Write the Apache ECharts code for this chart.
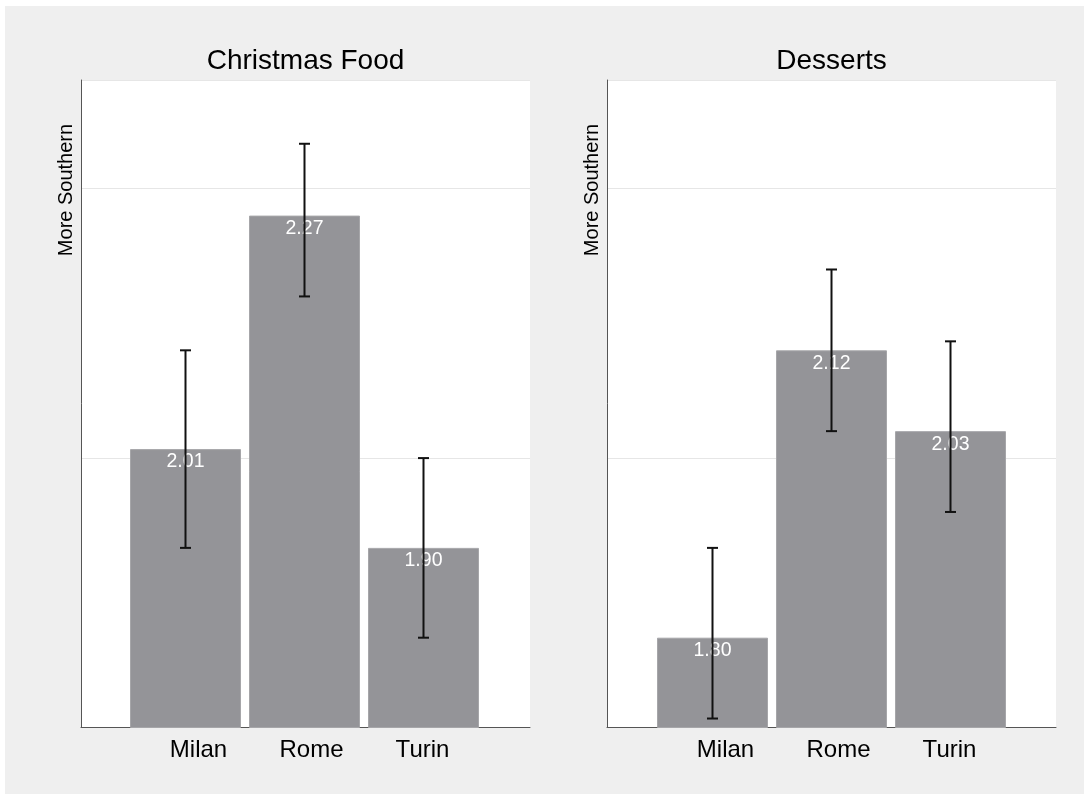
<!DOCTYPE html>
<html>
<head>
<meta charset="utf-8">
<script src="https://cdn.jsdelivr.net/npm/echarts@6/dist/echarts.min.js"></script>
<style>
  html, body { margin: 0; padding: 0; background: #ffffff; }
  #chart { width: 1084px; height: 794px; }
</style>
</head>
<body>
<div id="chart"></div>
<script>
// Survey means by city, with confidence intervals
const cities = ['Milan', 'Rome', 'Turin'];
const panelTitles = ['Christmas Food', 'Desserts'];
const yTitle = 'More Southern';

const christmasMean = [2.01, 2.27, 1.90];
const christmasLow  = [1.90, 2.18, 1.80];
const christmasHigh = [2.12, 2.35, 2.00];

const dessertMean = [1.80, 2.12, 2.03];
const dessertLow  = [1.71, 2.03, 1.94];
const dessertHigh = [1.90, 2.21, 2.13];

const yMin = 1.7, yMax = 2.421, yStep = 0.3;

const FONT = '"Liberation Sans", Arial, Helvetica, sans-serif';
const chart = echarts.init(document.getElementById('chart'), null, { renderer: 'canvas' });

const panels = [
  { title: panelTitles[0], mean: christmasMean, low: christmasLow, high: christmasHigh, frameLeft: 81, barLeft: 126 },
  { title: panelTitles[1], mean: dessertMean, low: dessertLow, high: dessertHigh, frameLeft: 607, barLeft: 653 }
];

const TOP = 80, HEIGHT = 647.5, FRAME_W = 449, BAR_W = 357;
const labelShift = [26, 14, 0];

const grids = [], xAxes = [], yAxes = [], series = [], graphics = [];

graphics.push({
  type: 'rect', z: -100, silent: true,
  shape: { x: 5, y: 6, width: 1084, height: 794 },
  style: { fill: '#efefef' }
});

panels.forEach((p, k) => {
  // frame grid: white plot area, axis lines, horizontal grid lines
  const gf = grids.length;
  grids.push({ left: p.frameLeft, top: TOP, width: FRAME_W, height: HEIGHT, show: true,
               backgroundColor: '#ffffff', borderWidth: 0 });
  xAxes.push({ gridIndex: gf, type: 'value', min: 0, max: 1,
               axisLine: { show: true, lineStyle: { color: '#555555', width: 1 } },
               axisTick: { show: false }, axisLabel: { show: false }, splitLine: { show: false } });
  yAxes.push({ gridIndex: gf, type: 'value', min: yMin, max: yMax, interval: yStep,
               axisLine: { show: true, lineStyle: { color: '#555555', width: 1 } },
               axisTick: { show: false }, axisLabel: { show: false },
               splitLine: { show: true, lineStyle: { color: '#e6e6e6', width: 1.2 } } });

  // bar grid: the three city bars
  const gb = grids.length;
  grids.push({ left: p.barLeft, top: TOP, width: BAR_W, height: HEIGHT, show: false });
  const rich = {};
  cities.forEach((c, i) => {
    rich['c' + i] = { fontSize: 24, fontFamily: FONT, color: '#000000',
                      padding: i === 2 ? [0, 2, 0, 0] : [0, 0, 0, labelShift[i]] };
  });
  xAxes.push({ gridIndex: gb, type: 'category', data: cities,
               axisLine: { show: false }, axisTick: { show: false },
               axisLabel: { show: true, margin: 11, interval: 0,
                            formatter: (v, i) => '{c' + i + '|' + v + '}', rich: rich },
               splitLine: { show: false } });
  yAxes.push({ gridIndex: gb, type: 'value', min: yMin, max: yMax, interval: yStep,
               show: false, splitLine: { show: false } });

  series.push({
    type: 'bar', xAxisIndex: gb, yAxisIndex: gb, z: 2,
    data: p.mean, barWidth: 111,
    itemStyle: { color: '#949498', borderColor: '#a6a6a9', borderWidth: 1 },
    label: { show: true, position: 'insideTop', distance: 3, color: '#ffffff',
             fontSize: 19.5, fontFamily: FONT, formatter: d => d.value.toFixed(2) }
  });

  series.push({
    type: 'custom', xAxisIndex: gb, yAxisIndex: gb, z: 10,
    data: cities.map((c, i) => [i, p.low[i], p.high[i]]),
    renderItem: (params, api) => {
      const lo = api.coord([api.value(0), api.value(1)]);
      const hi = api.coord([api.value(0), api.value(2)]);
      const x = lo[0], cap = 5.5;
      const style = { stroke: '#111111', lineWidth: 2, fill: null };
      return { type: 'group', children: [
        { type: 'line', shape: { x1: x, y1: lo[1], x2: x, y2: hi[1] }, style },
        { type: 'line', shape: { x1: x - cap, y1: lo[1], x2: x + cap, y2: lo[1] }, style },
        { type: 'line', shape: { x1: x - cap, y1: hi[1], x2: x + cap, y2: hi[1] }, style }
      ]};
    }
  });

  graphics.push({
    type: 'text', z: 50, x: p.frameLeft + FRAME_W / 2, y: 61,
    style: { text: p.title, fontSize: 28, fontFamily: FONT, fill: '#000000',
             textAlign: 'center', textVerticalAlign: 'middle' }
  });
  graphics.push({
    type: 'text', z: 50, x: p.frameLeft - 15, y: 190, rotation: Math.PI / 2,
    style: { text: yTitle, fontSize: 20, fontFamily: FONT, fill: '#000000',
             textAlign: 'center', textVerticalAlign: 'middle' }
  });
});

chart.setOption({
  backgroundColor: '#ffffff',
  animation: false,
  grid: grids,
  xAxis: xAxes,
  yAxis: yAxes,
  series: series,
  graphic: graphics
});
</script>
</body>
</html>
